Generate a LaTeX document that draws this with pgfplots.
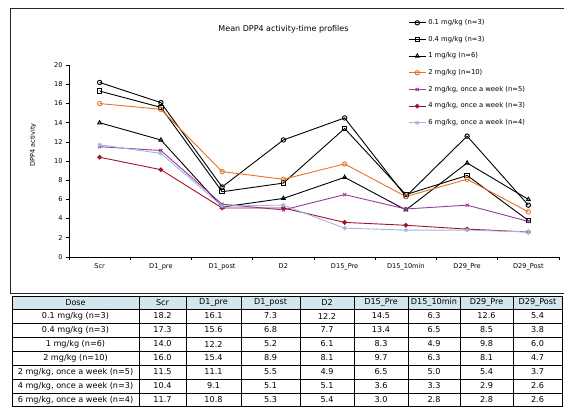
\documentclass[border=0pt]{standalone}
\usepackage{fontspec}
\setmainfont{DejaVu Sans}
\usepackage{pgfplots}
\pgfplotsset{compat=1.18}
\definecolor{corg}{HTML}{E8722A}
\definecolor{cpur}{HTML}{9A3A9E}
\definecolor{cred}{HTML}{A3142C}
\definecolor{cblu}{HTML}{A0B6E2}
\definecolor{hdr}{HTML}{D3E6EF}
\newcommand\ry{0}
\newcommand\trow[9]{%
  \node at (75.5,\ry) {#1};
  \node at (162.5,\ry) {#2};
  \node at (213.5,\ry) {#3};
  \node at (270.5,\ry) {#4};
  \node at (327,\ry) {#5};
  \node at (381,\ry) {#6};
  \node at (434,\ry) {#7};
  \node at (486.5,\ry) {#8};
  \node at (537.5,\ry) {#9};}
\begin{document}
\begin{tikzpicture}
\path[use as bounding box] (0,0) rectangle (564pt,-407pt);
\begin{scope}[x=1pt,y=1pt]
  \draw[line width=0.8pt, black!85] (10,-293) -- (10,-8) -- (564,-8);
  \draw[line width=0.8pt, black!85] (10,-293) -- (564,-293);
  \node[font=\fontsize{8}{9}\selectfont] at (283.5,-29) {Mean DPP4 activity-time profiles};
  \node[rotate=90, font=\fontsize{6.5}{7}\selectfont] at (33,-145) {DPP4 activity};
  % table
  \fill[hdr] (12,-296) rectangle (562,-309);
  \foreach \y in {296,309,323,337,351,365,379,393,406.5}
    \draw[line width=0.6pt] (12,-\y) -- (562,-\y);
  \foreach \x in {12,139,186,241,300,354,408,460,513,562}
    \draw[line width=0.6pt] (\x,-296) -- (\x,-406.5);
  \begin{scope}[every node/.style={font=\fontsize{8.1}{9}\selectfont, inner sep=0pt}]
  \renewcommand\ry{-302.5}
  \trow{Dose}{Scr}{D1\_pre}{D1\_post}{D2}{D15\_Pre}{D15\_10min}{D29\_Pre}{D29\_Post}
  \renewcommand\ry{-316}
  \trow{0.1 mg/kg (n=3)}{18.2}{16.1}{7.3}{12.2}{14.5}{6.3}{12.6}{5.4}
  \renewcommand\ry{-330}
  \trow{0.4 mg/kg (n=3)}{17.3}{15.6}{6.8}{7.7}{13.4}{6.5}{8.5}{3.8}
  \renewcommand\ry{-344}
  \trow{1 mg/kg (n=6)}{14.0}{12.2}{5.2}{6.1}{8.3}{4.9}{9.8}{6.0}
  \renewcommand\ry{-358}
  \trow{2 mg/kg (n=10)}{16.0}{15.4}{8.9}{8.1}{9.7}{6.3}{8.1}{4.7}
  \renewcommand\ry{-372}
  \trow{2 mg/kg, once a week (n=5)}{11.5}{11.1}{5.5}{4.9}{6.5}{5.0}{5.4}{3.7}
  \renewcommand\ry{-386}
  \trow{4 mg/kg, once a week (n=3)}{10.4}{9.1}{5.1}{5.1}{3.6}{3.3}{2.9}{2.6}
  \renewcommand\ry{-400}
  \trow{6 mg/kg, once a week (n=4)}{11.7}{10.8}{5.3}{5.4}{3.0}{2.8}{2.8}{2.6}
  \end{scope}
\end{scope}
\begin{axis}[at={(69pt,-256.9pt)}, anchor=south west, scale only axis,
  width=490pt, height=191.7pt,
  xmin=-0.5, xmax=7.5, ymin=0, ymax=20,
  axis lines=left, axis line style={-, line width=0.7pt},
  xtick={-0.5,0.5,...,7.5}, xticklabels={},
  extra x ticks={0,1,2,3,4,5,6,7},
  extra x tick labels={Scr,D1\_pre,D1\_post,D2,D15\_Pre,D15\_10min,D29\_Pre,D29\_Post},
  extra x tick style={major tick length=0pt, tick label style={font=\fontsize{6.6}{7}\selectfont, yshift=-3pt}},
  ytick={0,2,...,20},
  tick align=outside, major tick length=3pt,
  tick style={black, line width=0.6pt},
  yticklabel style={font=\fontsize{6.6}{7}\selectfont},
  /pgf/number format/assume math mode=true,
  clip=false,
  legend cell align=left,
  legend style={at={(axis description cs:0.692,1.25)}, anchor=north west, draw=none, fill=none,
    font=\fontsize{6.8}{7}\selectfont, row sep=6pt, inner sep=0pt},
  every axis plot/.append style={line width=0.9pt, mark size=2.2pt, mark options={solid}},
]
\addplot[black, mark=o] coordinates {(0,18.2) (1,16.1) (2,7.3) (3,12.2) (4,14.5) (5,6.3) (6,12.6) (7,5.4)};
\addlegendentry{0.1 mg/kg (n=3)}
\addplot[black, mark=square] coordinates {(0,17.3) (1,15.6) (2,6.8) (3,7.7) (4,13.4) (5,6.5) (6,8.5) (7,3.8)};
\addlegendentry{0.4 mg/kg (n=3)}
\addplot[black, mark=triangle] coordinates {(0,14.0) (1,12.2) (2,5.2) (3,6.1) (4,8.3) (5,4.9) (6,9.8) (7,6.0)};
\addlegendentry{1 mg/kg (n=6)}
\addplot[corg, mark=o] coordinates {(0,16.0) (1,15.4) (2,8.9) (3,8.1) (4,9.7) (5,6.3) (6,8.1) (7,4.7)};
\addlegendentry{2 mg/kg (n=10)}
\addplot[cpur, mark=x] coordinates {(0,11.5) (1,11.1) (2,5.5) (3,4.9) (4,6.5) (5,5.0) (6,5.4) (7,3.7)};
\addlegendentry{2 mg/kg, once a week (n=5)}
\addplot[cred, mark=*, mark size=1.9pt] coordinates {(0,10.4) (1,9.1) (2,5.1) (3,5.1) (4,3.6) (5,3.3) (6,2.9) (7,2.6)};
\addlegendentry{4 mg/kg, once a week (n=3)}
\addplot[cblu, mark=asterisk] coordinates {(0,11.7) (1,10.8) (2,5.3) (3,5.4) (4,3.0) (5,2.8) (6,2.8) (7,2.6)};
\addlegendentry{6 mg/kg, once a week (n=4)}
\end{axis}
\end{tikzpicture}
\end{document}
